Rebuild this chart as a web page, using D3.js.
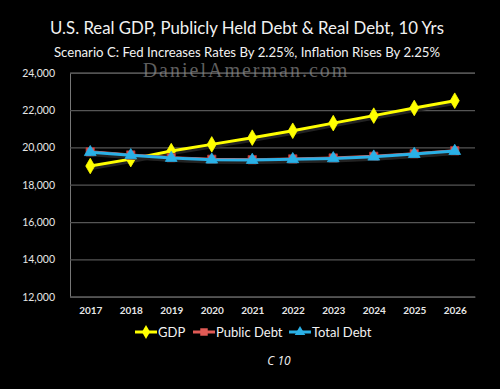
<!DOCTYPE html>
<html>
<head>
<meta charset="utf-8">
<script src="https://cdn.jsdelivr.net/npm/d3@7"></script>
<style>
  body { margin: 0; background: #000; }
  text { font-family: Lato, "Open Sans", sans-serif; }
</style>
</head>
<body>
<script>
var years = ['2017', '2018', '2019', '2020', '2021', '2022', '2023', '2024', '2025', '2026'];
var gdp = [19000, 19370, 19800, 20160, 20520, 20890, 21300, 21700, 22110, 22500];
var publicDebt = [19760, 19590, 19450, 19360, 19340, 19380, 19430, 19520, 19660, 19820];
var totalDebt = [19740, 19575, 19430, 19340, 19320, 19360, 19410, 19500, 19640, 19800];
var yTicks = [12000, 14000, 16000, 18000, 20000, 22000, 24000];

var width = 500, height = 389;
var margin = { top: 72.7, right: 25, bottom: 92.3, left: 70 };

var svg = d3.select('body').append('svg')
  .attr('width', width)
  .attr('height', height)
  .style('background', '#000');

var x = d3.scalePoint()
  .domain(years)
  .range([margin.left, width - margin.right])
  .padding(0.5);

var y = d3.scaleLinear()
  .domain([12000, 24000])
  .range([height - margin.bottom, margin.top]);

// titles
svg.append('text')
  .attr('x', 247).attr('y', 34)
  .attr('text-anchor', 'middle')
  .attr('fill', '#f2f2f2')
  .style('font-size', '16.8px')
  .text('U.S. Real GDP, Publicly Held Debt & Real Debt, 10 Yrs');

svg.append('text')
  .attr('x', 247).attr('y', 56.5)
  .attr('text-anchor', 'middle')
  .attr('fill', '#f2f2f2')
  .style('font-size', '13.2px')
  .text('Scenario C: Fed Increases Rates By 2.25%, Inflation Rises By 2.25%');

// gridlines + y axis
var yAxis = d3.axisLeft(y)
  .tickValues(yTicks)
  .tickSize(-(width - margin.left - margin.right))
  .tickPadding(15)
  .tickFormat(d3.format(','));

var gy = svg.append('g')
  .attr('transform', 'translate(' + margin.left + ',0)')
  .call(yAxis);
gy.select('.domain').attr('stroke', '#777');
gy.selectAll('.tick line').attr('stroke', '#555').attr('stroke-width', 1.2);
gy.selectAll('.tick text')
  .attr('fill', '#e6e6e6')
  .style('font-size', '10.5px');

// x axis labels
var gx = svg.append('g')
  .attr('transform', 'translate(0,' + (height - margin.bottom) + ')')
  .call(d3.axisBottom(x).tickSize(0).tickPadding(10));
gx.select('.domain').attr('stroke', '#555').attr('stroke-width', 1.2);
gx.selectAll('.tick text')
  .attr('fill', '#e6e6e6')
  .style('font-size', '10px')
  .style('font-weight', 'bold');

// watermark
svg.append('text')
  .attr('x', 246).attr('y', 77)
  .attr('text-anchor', 'middle')
  .attr('fill', '#8a8a8a')
  .attr('fill-opacity', 0.7)
  .style('font-family', '"Liberation Serif", "DejaVu Serif", serif')
  .style('font-size', '20px')
  .style('letter-spacing', '2px')
  .text('DanielAmerman.com');

var series = [
  { name: 'GDP', values: gdp, color: '#ffff00', shape: d3.symbolDiamond, size: 70 },
  { name: 'Public Debt', values: publicDebt, color: '#e05a55', shape: d3.symbolSquare, size: 70 },
  { name: 'Total Debt', values: totalDebt, color: '#2ab0e6', shape: d3.symbolTriangle, size: 60 }
];

var line = d3.line()
  .x(function(d, i) { return x(years[i]); })
  .y(function(d) { return y(d); });

series.forEach(function(s) {
  // shadow
  svg.append('path')
    .datum(s.values)
    .attr('d', line)
    .attr('fill', 'none')
    .attr('stroke', '#222')
    .attr('stroke-width', 5)
    .attr('transform', 'translate(1,1.5)');
  svg.append('path')
    .datum(s.values)
    .attr('d', line)
    .attr('fill', 'none')
    .attr('stroke', s.color)
    .attr('stroke-width', 3);
  svg.selectAll(null)
    .data(s.values)
    .enter()
    .append('path')
    .attr('d', d3.symbol().type(s.shape).size(s.size))
    .attr('transform', function(d, i) {
      return 'translate(' + x(years[i]) + ',' + y(d) + ')';
    })
    .attr('fill', s.color)
    .attr('stroke', s.name == 'Public Debt' ? '#b03030' : s.color)
    .attr('stroke-width', 0.8);
});

// legend
var legendX = [135, 193, 289];
var legend = svg.selectAll('g.legend')
  .data(series)
  .enter()
  .append('g')
  .attr('class', 'legend')
  .attr('transform', function(d, i) {
    return 'translate(' + legendX[i] + ',332)';
  });
legend.append('line')
  .attr('x1', 0).attr('x2', 22)
  .attr('stroke', function(d) { return d.color; })
  .attr('stroke-width', 3);
legend.append('path')
  .attr('d', function(d) { return d3.symbol().type(d.shape).size(d.size * 0.8)(); })
  .attr('transform', 'translate(11,0)')
  .attr('fill', function(d) { return d.color; });
legend.append('text')
  .attr('x', 23).attr('y', 5)
  .attr('fill', '#f2f2f2')
  .style('font-size', '13px')
  .text(function(d) { return d.name; });

svg.append('text')
  .attr('x', 279).attr('y', 365)
  .attr('text-anchor', 'middle')
  .attr('fill', '#f2f2f2')
  .style('font-family', '"Open Sans", sans-serif')
  .style('font-size', '12px')
  .style('font-style', 'italic')
  .text('C 10');
</script>
</body>
</html>
